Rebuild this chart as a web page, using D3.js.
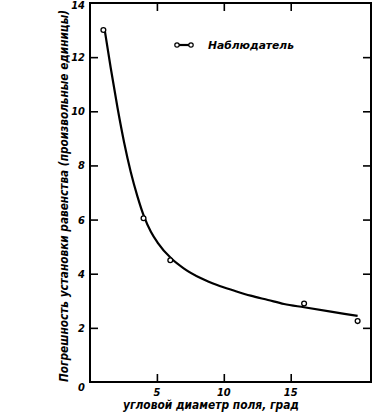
<!DOCTYPE html>
<html><head><meta charset="utf-8">
<script src="https://cdn.jsdelivr.net/npm/d3@7"></script>
<style>
html,body{margin:0;padding:0;background:#fff;}
svg text{font-family:"DejaVu Sans Condensed","DejaVu Sans",sans-serif;font-style:oblique;font-weight:bold;fill:#000;}
</style></head><body>
<svg id="c" width="374" height="419"></svg>
<script>
// observed points
const obsX = [1, 4, 6, 16, 20];
const obsY = [13.0, 6.05, 4.5, 2.9, 2.25];
// smooth curve as drawn in the figure
const curveX = [1.1, 1.55, 2.05, 2.55, 3.05, 3.55, 4.05, 4.55, 5.05, 6.1, 7.0, 8.3, 9.5, 10.8, 12.0, 13.3, 14.5, 16.0, 18.0, 20.0];
const curveY = [13.0, 11.6, 10.15, 8.85, 7.75, 6.85, 6.1, 5.55, 5.15, 4.55, 4.2, 3.83, 3.58, 3.37, 3.19, 3.03, 2.88, 2.76, 2.6, 2.44];
const xTicks = [5, 10, 15];
const yTicks = [0, 2, 4, 6, 8, 10, 12, 14];
const legendLabel = "Наблюдатель";
const xLabel = "угловой диаметр поля, град";
const yLabel = "Погрешность установки равенства (произвольные единицы)";

const svg = d3.select("#c");
const L = 90, R = 371, T = 3, B = 382;
const x = d3.scaleLinear().domain([0, 21]).range([L, R]);
const y = d3.scaleLinear().domain([0, 14]).range([B, T]);

// frame
svg.append("rect").attr("x", L).attr("y", T).attr("width", R - L).attr("height", B - T)
  .attr("fill", "none").attr("stroke", "#000").attr("stroke-width", 2);

// axes with inward ticks
const gl = svg.append("g").attr("transform", `translate(${L},0)`)
  .call(d3.axisRight(y).tickValues(yTicks.filter(v => v > 0 && v < 14)).tickSize(8).tickFormat(""));
const gr = svg.append("g").attr("transform", `translate(${R},0)`)
  .call(d3.axisLeft(y).tickValues(yTicks.filter(v => v > 0 && v < 14)).tickSize(8).tickFormat(""));
const gb = svg.append("g").attr("transform", `translate(0,${B})`)
  .call(d3.axisTop(x).tickValues(xTicks).tickSize(8).tickFormat(""));
const gt = svg.append("g").attr("transform", `translate(0,${T})`)
  .call(d3.axisBottom(x).tickValues(xTicks).tickSize(8).tickFormat(""));
[gl, gr, gb, gt].forEach(g => {
  g.select(".domain").remove();
  g.selectAll(".tick line").attr("stroke", "#000").attr("stroke-width", 1.6);
});

// tick labels
svg.append("g").selectAll("text").data(yTicks).join("text")
  .attr("x", L - 5).attr("y", d => y(d) + (d === 0 ? 9 : d === 14 ? 6 : 4))
  .attr("text-anchor", "end").attr("font-size", 11).text(d => d);
svg.append("g").selectAll("text").data(xTicks).join("text")
  .attr("x", d => x(d)).attr("y", B + 14)
  .attr("text-anchor", "middle").attr("font-size", 11).text(d => d);

// axis titles
svg.append("text").attr("x", 211).attr("y", 409).attr("text-anchor", "middle")
  .attr("font-size", 11.5).attr("textLength", 176).attr("lengthAdjust", "spacingAndGlyphs").text(xLabel);
svg.append("text").attr("transform", "translate(68,196) rotate(-90)").attr("text-anchor", "middle")
  .attr("font-size", 11.5).attr("textLength", 372).attr("lengthAdjust", "spacingAndGlyphs").text(yLabel);

// curve
const line = d3.line().x(d => x(d[0])).y(d => y(d[1])).curve(d3.curveMonotoneX);
svg.append("path").datum(curveX.map((v, i) => [v, curveY[i]]))
  .attr("d", line).attr("fill", "none").attr("stroke", "#000").attr("stroke-width", 2.2);

// points
svg.append("g").selectAll("circle").data(obsX.map((v, i) => [v, obsY[i]])).join("circle")
  .attr("cx", d => x(d[0])).attr("cy", d => y(d[1])).attr("r", 2.4)
  .attr("fill", "#fff").attr("stroke", "#000").attr("stroke-width", 1.3);

// legend
svg.append("line").attr("x1", 177).attr("x2", 191).attr("y1", 45).attr("y2", 45)
  .attr("stroke", "#000").attr("stroke-width", 2.2);
[177, 191].forEach(cx => svg.append("circle").attr("cx", cx).attr("cy", 45).attr("r", 2.2)
  .attr("fill", "#fff").attr("stroke", "#000").attr("stroke-width", 1.2));
svg.append("text").attr("x", 208).attr("y", 49).attr("font-size", 11)
  .attr("textLength", 86).attr("lengthAdjust", "spacingAndGlyphs").text(legendLabel);
</script>
</body></html>
